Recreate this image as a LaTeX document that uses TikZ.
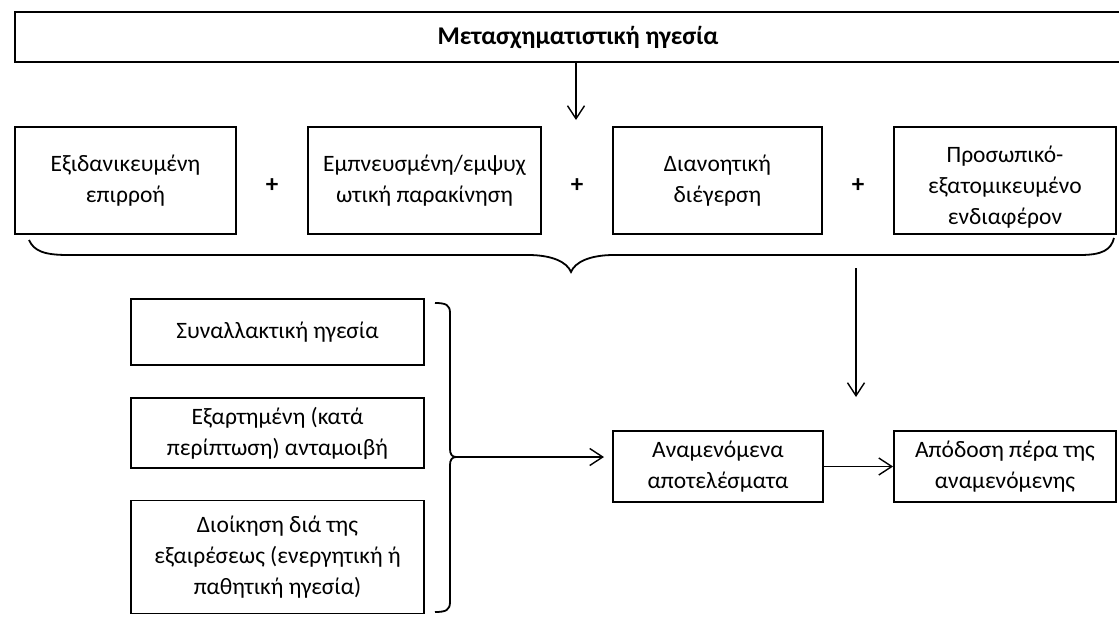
\documentclass[tikz,border=0pt]{standalone}
\usepackage{fontspec}
\setmainfont{Carlito}
\usetikzlibrary{arrows.meta}
\begin{document}
\begin{tikzpicture}[x=1pt,y=-1pt,
  box/.style={draw=black, line width=1.9pt, rectangle, inner sep=0pt, align=center, font=\fontsize{23.5}{31}\selectfont},
  lbl/.style={inner sep=0pt, align=center, font=\fontsize{23.5}{31}\selectfont},
  plus/.style={inner sep=0pt, font=\fontsize{25}{25}\selectfont\bfseries},
  arr/.style={line width=1.4pt, -{Straight Barb[length=13pt,width=17pt]}},
  brc/.style={line width=1.8pt}]
\useasboundingbox[fill=white] (0,0) rectangle (1119,621);

% top box
\node[box, minimum width=1112pt, minimum height=50pt] (top) at (571,37) {};
\node[lbl, font=\fontsize{25.5}{28}\selectfont\bfseries] (title) at (578,38) {Μετασχηματιστική ηγεσία};

% row of four components
\node[box, minimum width=221pt, minimum height=107pt] (b1) at (125.5,180.5) {Εξιδανικευμένη\\επιρροή};
\node[box, minimum width=233pt, minimum height=107pt] (b2) at (424.5,180.5) {Εμπνευσμένη/εμψυχ\\ωτική παρακίνηση};
\node[box, minimum width=209pt, minimum height=107pt] (b3) at (717.5,180.5) {Διανοητική\\διέγερση};
\node[box, minimum width=222pt, minimum height=107pt] (b4) at (1005,180.5) {};
\node[lbl] (b4t) at (1005,187) {Προσωπικό-\\εξατομικευμένο\\ενδιαφέρον};
\node[plus] (p1) at (272,186) {+};
\node[plus] (p2) at (577,186) {+};
\node[plus] (p3) at (858,186) {+};

% arrow from top
\coordinate (a1e) at (576,120);
\draw[arr] (top.south -| a1e) -- (a1e);

% brace under the row
\draw[brc] (29,240) .. controls (34,251) and (44,255) .. (68,255) -- (528,255)
  .. controls (552,255) and (567,262) .. (571,272)
  .. controls (575,262) and (590,255) .. (614,255) -- (1080,255)
  .. controls (1102,255) and (1111,250) .. (1114,238);

% down arrow
\coordinate (a2s) at (856,268);
\coordinate (a2e) at (856,397);
\draw[arr] (a2s) -- (a2e);

% left boxes
\node[box, minimum width=293pt, minimum height=66pt] (l1) at (277.5,332) {Συναλλακτική ηγεσία};
\node[box, minimum width=293pt, minimum height=70pt] (l2) at (277.5,433) {Εξαρτημένη (κατά\\περίπτωση) ανταμοιβή};
\node[box, minimum width=293pt, minimum height=113pt] (l3) at (277.5,557) {Διοίκηση διά της\\εξαιρέσεως (ενεργητική ή\\παθητική ηγεσία)};

% right bracket
\draw[brc] (435,303) .. controls (446,303) and (450,305) .. (450,313) -- (450,449)
  .. controls (450,454) and (452,457) .. (456,457)
  .. controls (452,457) and (450,460) .. (450,465) -- (450,602)
  .. controls (450,610) and (446,612) .. (435,612);

% outcome boxes
\node[box, minimum width=210pt, minimum height=71pt] (ex1) at (718,466.5) {Αναμενόμενα\\αποτελέσματα};
\node[box, minimum width=222pt, minimum height=71pt] (ex2) at (1005,466.5) {Απόδοση πέρα της\\αναμενόμενης};

\coordinate (bt) at (456,457);
\coordinate (a3e) at (604,457);
\draw[arr] (bt) -- (a3e);
\draw[arr] (ex1.east) -- (ex2.west);
\end{tikzpicture}
\end{document}
